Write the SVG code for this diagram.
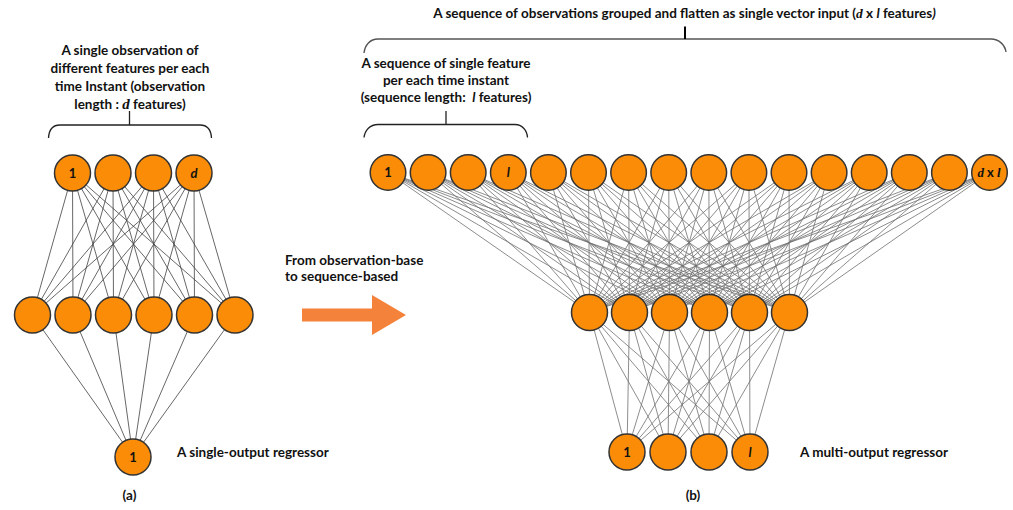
<svg xmlns="http://www.w3.org/2000/svg" width="1013" height="510" viewBox="0 0 1013 510">
<style>
.t{font-family:Lato,"Open Sans","Liberation Sans",sans-serif;font-weight:700;font-size:13.5px;fill:#111}
.m{text-anchor:middle}
.ser{font-family:"Liberation Serif","DejaVu Serif",serif;font-style:italic;font-weight:700}
.it{font-style:italic}
.n{fill:#FA8C07;stroke:#333;stroke-width:1.5}
.lbl{font-family:Lato,"Liberation Sans",sans-serif;font-weight:700;font-size:13px;fill:#111;text-anchor:middle}
.cl line{stroke:#404040;stroke-width:0.8}
.cr line{stroke:#707070;stroke-width:0.8}
.br{fill:none;stroke:#222;stroke-width:1.3}
</style>
<rect width="1013" height="510" fill="#fff"/>
<g id="connectors">
<g class="cl">
<line x1="72.5" y1="173" x2="32.5" y2="315"/><line x1="72.5" y1="173" x2="73" y2="315"/><line x1="72.5" y1="173" x2="113.5" y2="315"/><line x1="72.5" y1="173" x2="154" y2="315"/><line x1="72.5" y1="173" x2="194.5" y2="315"/><line x1="72.5" y1="173" x2="235" y2="315"/>
<line x1="113" y1="173" x2="32.5" y2="315"/><line x1="113" y1="173" x2="73" y2="315"/><line x1="113" y1="173" x2="113.5" y2="315"/><line x1="113" y1="173" x2="154" y2="315"/><line x1="113" y1="173" x2="194.5" y2="315"/><line x1="113" y1="173" x2="235" y2="315"/>
<line x1="153.5" y1="173" x2="32.5" y2="315"/><line x1="153.5" y1="173" x2="73" y2="315"/><line x1="153.5" y1="173" x2="113.5" y2="315"/><line x1="153.5" y1="173" x2="154" y2="315"/><line x1="153.5" y1="173" x2="194.5" y2="315"/><line x1="153.5" y1="173" x2="235" y2="315"/>
<line x1="194" y1="173" x2="32.5" y2="315"/><line x1="194" y1="173" x2="73" y2="315"/><line x1="194" y1="173" x2="113.5" y2="315"/><line x1="194" y1="173" x2="154" y2="315"/><line x1="194" y1="173" x2="194.5" y2="315"/><line x1="194" y1="173" x2="235" y2="315"/>
<line x1="32.5" y1="315" x2="133" y2="457"/><line x1="73" y1="315" x2="133" y2="457"/><line x1="113.5" y1="315" x2="133" y2="457"/><line x1="154" y1="315" x2="133" y2="457"/><line x1="194.5" y1="315" x2="133" y2="457"/><line x1="235" y1="315" x2="133" y2="457"/>
</g>
<g class="cr">
<line x1="388" y1="172.5" x2="589.5" y2="312.5"/><line x1="388" y1="172.5" x2="629.5" y2="312.5"/><line x1="388" y1="172.5" x2="669.5" y2="312.5"/><line x1="388" y1="172.5" x2="709.5" y2="312.5"/><line x1="388" y1="172.5" x2="749.5" y2="312.5"/><line x1="388" y1="172.5" x2="789.5" y2="312.5"/>
<line x1="428.1" y1="172.5" x2="589.5" y2="312.5"/><line x1="428.1" y1="172.5" x2="629.5" y2="312.5"/><line x1="428.1" y1="172.5" x2="669.5" y2="312.5"/><line x1="428.1" y1="172.5" x2="709.5" y2="312.5"/><line x1="428.1" y1="172.5" x2="749.5" y2="312.5"/><line x1="428.1" y1="172.5" x2="789.5" y2="312.5"/>
<line x1="468.2" y1="172.5" x2="589.5" y2="312.5"/><line x1="468.2" y1="172.5" x2="629.5" y2="312.5"/><line x1="468.2" y1="172.5" x2="669.5" y2="312.5"/><line x1="468.2" y1="172.5" x2="709.5" y2="312.5"/><line x1="468.2" y1="172.5" x2="749.5" y2="312.5"/><line x1="468.2" y1="172.5" x2="789.5" y2="312.5"/>
<line x1="508.3" y1="172.5" x2="589.5" y2="312.5"/><line x1="508.3" y1="172.5" x2="629.5" y2="312.5"/><line x1="508.3" y1="172.5" x2="669.5" y2="312.5"/><line x1="508.3" y1="172.5" x2="709.5" y2="312.5"/><line x1="508.3" y1="172.5" x2="749.5" y2="312.5"/><line x1="508.3" y1="172.5" x2="789.5" y2="312.5"/>
<line x1="548.4" y1="172.5" x2="589.5" y2="312.5"/><line x1="548.4" y1="172.5" x2="629.5" y2="312.5"/><line x1="548.4" y1="172.5" x2="669.5" y2="312.5"/><line x1="548.4" y1="172.5" x2="709.5" y2="312.5"/><line x1="548.4" y1="172.5" x2="749.5" y2="312.5"/><line x1="548.4" y1="172.5" x2="789.5" y2="312.5"/>
<line x1="588.5" y1="172.5" x2="589.5" y2="312.5"/><line x1="588.5" y1="172.5" x2="629.5" y2="312.5"/><line x1="588.5" y1="172.5" x2="669.5" y2="312.5"/><line x1="588.5" y1="172.5" x2="709.5" y2="312.5"/><line x1="588.5" y1="172.5" x2="749.5" y2="312.5"/><line x1="588.5" y1="172.5" x2="789.5" y2="312.5"/>
<line x1="628.6" y1="172.5" x2="589.5" y2="312.5"/><line x1="628.6" y1="172.5" x2="629.5" y2="312.5"/><line x1="628.6" y1="172.5" x2="669.5" y2="312.5"/><line x1="628.6" y1="172.5" x2="709.5" y2="312.5"/><line x1="628.6" y1="172.5" x2="749.5" y2="312.5"/><line x1="628.6" y1="172.5" x2="789.5" y2="312.5"/>
<line x1="668.7" y1="172.5" x2="589.5" y2="312.5"/><line x1="668.7" y1="172.5" x2="629.5" y2="312.5"/><line x1="668.7" y1="172.5" x2="669.5" y2="312.5"/><line x1="668.7" y1="172.5" x2="709.5" y2="312.5"/><line x1="668.7" y1="172.5" x2="749.5" y2="312.5"/><line x1="668.7" y1="172.5" x2="789.5" y2="312.5"/>
<line x1="708.8" y1="172.5" x2="589.5" y2="312.5"/><line x1="708.8" y1="172.5" x2="629.5" y2="312.5"/><line x1="708.8" y1="172.5" x2="669.5" y2="312.5"/><line x1="708.8" y1="172.5" x2="709.5" y2="312.5"/><line x1="708.8" y1="172.5" x2="749.5" y2="312.5"/><line x1="708.8" y1="172.5" x2="789.5" y2="312.5"/>
<line x1="748.9" y1="172.5" x2="589.5" y2="312.5"/><line x1="748.9" y1="172.5" x2="629.5" y2="312.5"/><line x1="748.9" y1="172.5" x2="669.5" y2="312.5"/><line x1="748.9" y1="172.5" x2="709.5" y2="312.5"/><line x1="748.9" y1="172.5" x2="749.5" y2="312.5"/><line x1="748.9" y1="172.5" x2="789.5" y2="312.5"/>
<line x1="789" y1="172.5" x2="589.5" y2="312.5"/><line x1="789" y1="172.5" x2="629.5" y2="312.5"/><line x1="789" y1="172.5" x2="669.5" y2="312.5"/><line x1="789" y1="172.5" x2="709.5" y2="312.5"/><line x1="789" y1="172.5" x2="749.5" y2="312.5"/><line x1="789" y1="172.5" x2="789.5" y2="312.5"/>
<line x1="829.1" y1="172.5" x2="589.5" y2="312.5"/><line x1="829.1" y1="172.5" x2="629.5" y2="312.5"/><line x1="829.1" y1="172.5" x2="669.5" y2="312.5"/><line x1="829.1" y1="172.5" x2="709.5" y2="312.5"/><line x1="829.1" y1="172.5" x2="749.5" y2="312.5"/><line x1="829.1" y1="172.5" x2="789.5" y2="312.5"/>
<line x1="869.2" y1="172.5" x2="589.5" y2="312.5"/><line x1="869.2" y1="172.5" x2="629.5" y2="312.5"/><line x1="869.2" y1="172.5" x2="669.5" y2="312.5"/><line x1="869.2" y1="172.5" x2="709.5" y2="312.5"/><line x1="869.2" y1="172.5" x2="749.5" y2="312.5"/><line x1="869.2" y1="172.5" x2="789.5" y2="312.5"/>
<line x1="909.3" y1="172.5" x2="589.5" y2="312.5"/><line x1="909.3" y1="172.5" x2="629.5" y2="312.5"/><line x1="909.3" y1="172.5" x2="669.5" y2="312.5"/><line x1="909.3" y1="172.5" x2="709.5" y2="312.5"/><line x1="909.3" y1="172.5" x2="749.5" y2="312.5"/><line x1="909.3" y1="172.5" x2="789.5" y2="312.5"/>
<line x1="949.4" y1="172.5" x2="589.5" y2="312.5"/><line x1="949.4" y1="172.5" x2="629.5" y2="312.5"/><line x1="949.4" y1="172.5" x2="669.5" y2="312.5"/><line x1="949.4" y1="172.5" x2="709.5" y2="312.5"/><line x1="949.4" y1="172.5" x2="749.5" y2="312.5"/><line x1="949.4" y1="172.5" x2="789.5" y2="312.5"/>
<line x1="989.5" y1="172.5" x2="589.5" y2="312.5"/><line x1="989.5" y1="172.5" x2="629.5" y2="312.5"/><line x1="989.5" y1="172.5" x2="669.5" y2="312.5"/><line x1="989.5" y1="172.5" x2="709.5" y2="312.5"/><line x1="989.5" y1="172.5" x2="749.5" y2="312.5"/><line x1="989.5" y1="172.5" x2="789.5" y2="312.5"/>
<line x1="589.5" y1="312.5" x2="627" y2="452"/><line x1="589.5" y1="312.5" x2="668" y2="452"/><line x1="589.5" y1="312.5" x2="709" y2="452"/><line x1="589.5" y1="312.5" x2="750" y2="452"/>
<line x1="629.5" y1="312.5" x2="627" y2="452"/><line x1="629.5" y1="312.5" x2="668" y2="452"/><line x1="629.5" y1="312.5" x2="709" y2="452"/><line x1="629.5" y1="312.5" x2="750" y2="452"/>
<line x1="669.5" y1="312.5" x2="627" y2="452"/><line x1="669.5" y1="312.5" x2="668" y2="452"/><line x1="669.5" y1="312.5" x2="709" y2="452"/><line x1="669.5" y1="312.5" x2="750" y2="452"/>
<line x1="709.5" y1="312.5" x2="627" y2="452"/><line x1="709.5" y1="312.5" x2="668" y2="452"/><line x1="709.5" y1="312.5" x2="709" y2="452"/><line x1="709.5" y1="312.5" x2="750" y2="452"/>
<line x1="749.5" y1="312.5" x2="627" y2="452"/><line x1="749.5" y1="312.5" x2="668" y2="452"/><line x1="749.5" y1="312.5" x2="709" y2="452"/><line x1="749.5" y1="312.5" x2="750" y2="452"/>
<line x1="789.5" y1="312.5" x2="627" y2="452"/><line x1="789.5" y1="312.5" x2="668" y2="452"/><line x1="789.5" y1="312.5" x2="709" y2="452"/><line x1="789.5" y1="312.5" x2="750" y2="452"/>
</g>
</g>
<g id="left-input">
<circle class="n" cx="72.5" cy="173" r="18"/><circle class="n" cx="113" cy="173" r="18"/><circle class="n" cx="153.5" cy="173" r="18"/><circle class="n" cx="194" cy="173" r="18"/>
<text class="lbl" x="72.5" y="177.5">1</text>
<text class="lbl ser" x="194" y="178" font-size="15">d</text>
</g>
<g id="left-hidden">
<circle class="n" cx="32.5" cy="315" r="18"/><circle class="n" cx="73" cy="315" r="18"/><circle class="n" cx="113.5" cy="315" r="18"/><circle class="n" cx="154" cy="315" r="18"/><circle class="n" cx="194.5" cy="315" r="18"/><circle class="n" cx="235" cy="315" r="18"/>
</g>
<g id="left-output">
<circle class="n" cx="133" cy="457" r="18"/>
<text class="lbl" x="133" y="461.5">1</text>
</g>
<g id="right-input">
<circle class="n" cx="388" cy="172.5" r="17.8"/><circle class="n" cx="428.1" cy="172.5" r="17.8"/><circle class="n" cx="468.2" cy="172.5" r="17.8"/><circle class="n" cx="508.3" cy="172.5" r="17.8"/><circle class="n" cx="548.4" cy="172.5" r="17.8"/><circle class="n" cx="588.5" cy="172.5" r="17.8"/><circle class="n" cx="628.6" cy="172.5" r="17.8"/><circle class="n" cx="668.7" cy="172.5" r="17.8"/><circle class="n" cx="708.8" cy="172.5" r="17.8"/><circle class="n" cx="748.9" cy="172.5" r="17.8"/><circle class="n" cx="789" cy="172.5" r="17.8"/><circle class="n" cx="829.1" cy="172.5" r="17.8"/><circle class="n" cx="869.2" cy="172.5" r="17.8"/><circle class="n" cx="909.3" cy="172.5" r="17.8"/><circle class="n" cx="949.4" cy="172.5" r="17.8"/><circle class="n" cx="989.5" cy="172.5" r="17.8"/>
<text class="lbl" x="388" y="177">1</text>
<text class="lbl it" x="508.3" y="177">l</text>
<text class="lbl" x="989" y="177"><tspan class="ser">d</tspan> x <tspan class="ser">l</tspan></text>
</g>
<g id="right-hidden">
<circle class="n" cx="589.5" cy="312.5" r="18"/><circle class="n" cx="629.5" cy="312.5" r="18"/><circle class="n" cx="669.5" cy="312.5" r="18"/><circle class="n" cx="709.5" cy="312.5" r="18"/><circle class="n" cx="749.5" cy="312.5" r="18"/><circle class="n" cx="789.5" cy="312.5" r="18"/>
</g>
<g id="right-output">
<circle class="n" cx="627" cy="452" r="18"/><circle class="n" cx="668" cy="452" r="18"/><circle class="n" cx="709" cy="452" r="18"/><circle class="n" cx="750" cy="452" r="18"/>
<text class="lbl" x="627" y="456.5">1</text>
<text class="lbl it" x="750" y="456.5">l</text>
</g>
<g id="left-brace">
<path class="br" d="M48.5,138 C49,130 53,125 60,125 L200,125 C207,125 211,130 211.5,138"/>
<path class="br" d="M129.5,111 V125"/>
<text class="t m" x="130" y="55">A single observation of</text>
<text class="t m" x="130" y="73">different features per each</text>
<text class="t m" x="130" y="91">time Instant (observation</text>
<text class="t m" x="130" y="109">length : <tspan class="ser" font-weight="400" font-size="15">d</tspan> features)</text>
</g>
<g id="top-brace">
<path fill="none" stroke="#555" stroke-width="1.4" d="M364,53 C365,45 370,39 378,39 L991,39 C999,39 1005,45 1006,52"/>
<path stroke="#000" stroke-width="2" d="M685,26.5 V39"/>
<text class="t m" x="684.5" y="17.5">A sequence of observations grouped and flatten as single vector input (<tspan class="ser">d</tspan> x <tspan class="it">l</tspan> features<tspan class="it">)</tspan></text>
</g>
<g id="inner-brace">
<path class="br" d="M364,137.5 C365,130 370,124.5 378,124.5 L515,124.5 C522,124.5 527,130 527.5,137.5"/>
<path class="br" d="M446,111 V124.5"/>
<text class="t m" x="446" y="68">A sequence of single feature</text>
<text class="t m" x="446" y="85">per each time instant</text>
<text class="t m" x="446" y="102">(sequence length:&#160; <tspan class="it">l</tspan> features)</text>
</g>
<g id="transition">
<text class="t" x="285" y="265">From observation-base</text>
<text class="t" x="285" y="281">to sequence-based</text>
<polygon fill="#F4823A" points="302,308.5 372,308.5 372,295 406,315 372,335 372,321.5 302,321.5"/>
</g>
<text class="t" x="177" y="457">A single-output regressor</text>
<text class="t" x="800" y="457">A multi-output regressor</text>
<text class="t m" x="129.5" y="500">(a)</text>
<text class="t m" x="693" y="500">(b)</text>
</svg>
